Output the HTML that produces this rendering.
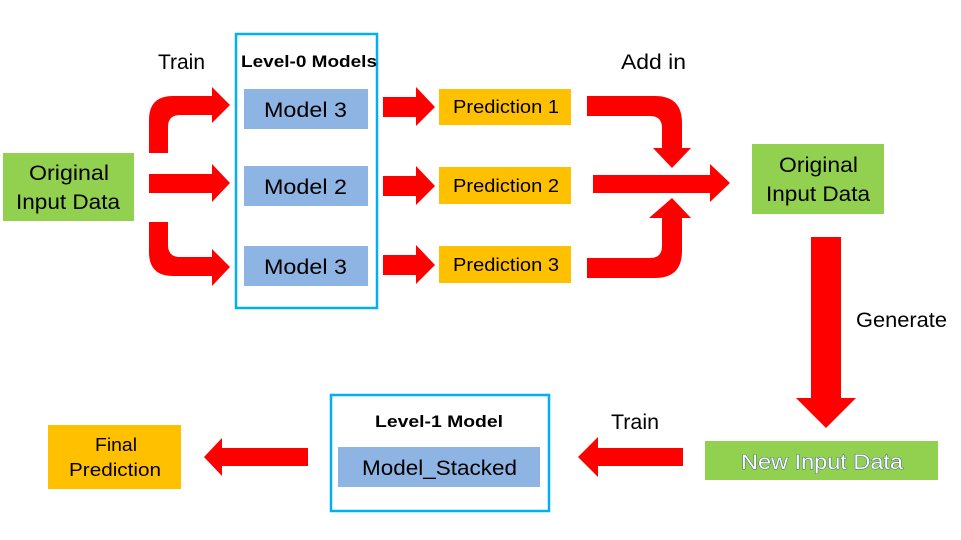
<!DOCTYPE html>
<html><head><meta charset="utf-8"><style>
html,body{margin:0;padding:0;background:#fff;}
svg{display:block;}
text{font-family:"Liberation Sans",sans-serif;}
</style></head><body>
<svg width="961" height="540" viewBox="0 0 961 540" xmlns="http://www.w3.org/2000/svg">
<g fill="#ff0000">
<path d="M149,153 L149,120 Q149,96 173,96 L212,96 L212,87 L230,105 L212,123 L212,115 L180,115 Q168,115 168,127 L168,153 Z"/>
<path d="M149,174 L212,174 L212,164 L230,183 L212,202 L212,193 L149,193 Z"/>
<path d="M149,222 L149,252 Q149,276 173,276 L212,276 L212,286 L230,267 L212,249 L212,257 L180,257 Q168,257 168,245 L168,222 Z"/>
<path d="M383,97 L416,97 L416,87 L435,107 L416,126 L416,117 L383,117 Z"/>
<path d="M383,176 L416,176 L416,166 L435,186 L416,205 L416,196 L383,196 Z"/>
<path d="M383,255 L416,255 L416,245 L435,265 L416,284 L416,275 L383,275 Z"/>
<path d="M587,96 L655,96 Q682,96 682,123 L682,148 L691,148 L672,168 L653,148 L662,148 L662,128 Q662,116 650,116 L587,116 Z"/>
<path d="M593,175 L710,175 L710,164 L730,183 L710,202 L710,193 L593,193 Z"/>
<path d="M587,278 L655,278 Q682,278 682,251 L682,218 L691,218 L672,198 L649,218 L662,218 L662,246 Q662,258 650,258 L587,258 Z"/>
<path d="M811,237 L841,237 L841,398 L856,398 L826,428 L796,398 L811,398 Z"/>
<path d="M683,448 L598,448 L598,437 L578,457 L598,477 L598,466 L683,466 Z"/>
<path d="M308,448 L222,448 L222,438 L204,457 L222,476 L222,466 L308,466 Z"/>
</g>
<rect x="3" y="153" width="131" height="68" fill="#92d050"/>
<text x="29" y="180" font-size="21" textLength="80" lengthAdjust="spacingAndGlyphs">Original</text>
<text x="16" y="209" font-size="21" textLength="104" lengthAdjust="spacingAndGlyphs">Input Data</text>

<rect x="236" y="34" width="141" height="274" fill="none" stroke="#00b0f0" stroke-width="2.5"/>
<text x="241" y="67" font-size="17" font-weight="bold" textLength="136" lengthAdjust="spacingAndGlyphs">Level-0 Models</text>
<rect x="244" y="89" width="124" height="40" fill="#8eb4e3"/>
<text x="264" y="117" font-size="21" textLength="83" lengthAdjust="spacingAndGlyphs">Model 3</text>
<rect x="244" y="166" width="124" height="40" fill="#8eb4e3"/>
<text x="264" y="194" font-size="21" textLength="83" lengthAdjust="spacingAndGlyphs">Model 2</text>
<rect x="244" y="246" width="124" height="40" fill="#8eb4e3"/>
<text x="264" y="274" font-size="21" textLength="83" lengthAdjust="spacingAndGlyphs">Model 3</text>

<rect x="439" y="89" width="132" height="36" fill="#ffc000"/>
<text x="453" y="113" font-size="18" textLength="106" lengthAdjust="spacingAndGlyphs">Prediction 1</text>
<rect x="439" y="167" width="132" height="37" fill="#ffc000"/>
<text x="453" y="192" font-size="18" textLength="106" lengthAdjust="spacingAndGlyphs">Prediction 2</text>
<rect x="439" y="246" width="132" height="37" fill="#ffc000"/>
<text x="453" y="271" font-size="18" textLength="106" lengthAdjust="spacingAndGlyphs">Prediction 3</text>

<rect x="752" y="144" width="132" height="70" fill="#92d050"/>
<text x="779" y="172" font-size="21" textLength="79" lengthAdjust="spacingAndGlyphs">Original</text>
<text x="766" y="201" font-size="21" textLength="104" lengthAdjust="spacingAndGlyphs">Input Data</text>

<rect x="705" y="441" width="233" height="39" fill="#92d050"/>
<text x="741" y="469" font-size="21" fill="#fff" stroke="#1f4e79" stroke-width="0.8" paint-order="stroke" textLength="162" lengthAdjust="spacingAndGlyphs">New Input Data</text>

<rect x="331" y="395" width="218" height="116" fill="none" stroke="#00b0f0" stroke-width="2.5"/>
<text x="375" y="427" font-size="17" font-weight="bold" textLength="128" lengthAdjust="spacingAndGlyphs">Level-1 Model</text>
<rect x="338" y="447" width="202" height="40" fill="#8eb4e3"/>
<text x="362" y="475" font-size="21" textLength="155" lengthAdjust="spacingAndGlyphs">Model_Stacked</text>

<rect x="48" y="425" width="133" height="64" fill="#ffc000"/>
<text x="95" y="451" font-size="18" textLength="42" lengthAdjust="spacingAndGlyphs">Final</text>
<text x="69" y="476" font-size="18" textLength="92" lengthAdjust="spacingAndGlyphs">Prediction</text>

<text x="158" y="69" font-size="21" textLength="47" lengthAdjust="spacingAndGlyphs">Train</text>
<text x="621" y="69" font-size="21" textLength="65" lengthAdjust="spacingAndGlyphs">Add in</text>
<text x="856" y="327" font-size="21" textLength="91" lengthAdjust="spacingAndGlyphs">Generate</text>
<text x="611" y="429" font-size="21" textLength="48" lengthAdjust="spacingAndGlyphs">Train</text>
</svg>
</body></html>
